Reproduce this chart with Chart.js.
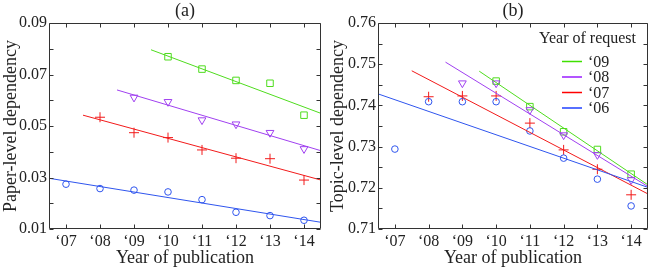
<!DOCTYPE html>
<html>
<head>
<meta charset="utf-8">
<script src="https://cdn.jsdelivr.net/npm/chart.js@4.4.1/dist/chart.umd.min.js"></script>
<style>
  html, body { margin: 0; padding: 0; background: #fff; }
  #wrap { position: relative; width: 654px; height: 272px; }
  .pane { position: absolute; top: 0; width: 327px; height: 272px; }
  #pa { left: 0; }
  #pb { left: 327px; }
</style>
</head>
<body>
<div id="wrap">
  <div class="pane" id="pa"><canvas id="ca"></canvas></div>
  <div class="pane" id="pb"><canvas id="cb"></canvas></div>
</div>
<script>
// ---------- data ----------
const years = [7, 8, 9, 10, 11, 12, 13, 14];
const yearTickLabels = ['‘07', '‘08', '‘09', '‘10', '‘11', '‘12', '‘13', '‘14'];
const seriesNames = ['‘09', '‘08', '‘07', '‘06'];

// (a) Paper-level dependency, by year of request
const paper06 = [0.0274, 0.0257, 0.0251, 0.0244, 0.0214, 0.0165, 0.0152, 0.0134];
const paper07 = [null, 0.0534, 0.0474, 0.0455, 0.0407, 0.0375, 0.0373, 0.0290];
const paper08 = [null, null, 0.0611, 0.0594, 0.0523, 0.0507, 0.0474, 0.0411];
const paper09 = [null, null, null, 0.0769, 0.0721, 0.0677, 0.0666, 0.0542];
// fitted lines: [startYear, startValue, endYear, endValue]
const paperFit06 = [6.5, 0.0297, 14.5, 0.0126];
const paperFit07 = [7.5, 0.0542, 14.5, 0.0290];
const paperFit08 = [8.5, 0.0640, 14.5, 0.0404];
const paperFit09 = [9.5, 0.0796, 14.5, 0.0549];
const paperTicks = [0.01, 0.03, 0.05, 0.07, 0.09];
const paperTickLabels = ['0.01', '0.03', '0.05', '0.07', '0.09'];
const paperMinorTicks = [0.02, 0.04, 0.06, 0.08];

// (b) Topic-level dependency, by year of request
const topic06 = [0.7294, 0.7409, 0.7409, 0.7409, 0.7338, 0.7272, 0.7221, 0.7156];
const topic07 = [null, 0.7421, 0.7423, 0.7423, 0.7357, 0.7292, 0.7245, 0.7183];
const topic08 = [null, null, 0.7454, 0.7454, 0.7389, 0.7328, 0.7280, 0.7219];
const topic09 = [null, null, null, 0.7459, 0.7397, 0.7336, 0.7293, 0.7233];
const topicFit06 = [6.5, 0.7428, 14.5, 0.7201];
const topicFit07 = [7.5, 0.7484, 14.5, 0.7185];
const topicFit08 = [8.5, 0.7505, 14.5, 0.7203];
const topicFit09 = [9.5, 0.7483, 14.5, 0.7207];
const topicTicks = [0.71, 0.72, 0.73, 0.74, 0.75, 0.76];
const topicTickLabels = ['0.71', '0.72', '0.73', '0.74', '0.75', '0.76'];
const topicMinorTicks = [0.715, 0.725, 0.735, 0.745, 0.755];

// ---------- styles ----------
const FONT = "'Liberation Serif', 'DejaVu Serif', serif";
const TXT = '#222';
const C = {
  g: '#4fdc1e', p: '#a040f0', r: '#f21a1a', b: '#2f55ee'
};
const LEG = { g: '#3fe000', p: '#9a1cff', r: '#ff0000', b: '#1f40ff' };

function pts(vals) {
  const out = [];
  vals.forEach((v, i) => { if (v !== null) out.push({ x: years[i], y: v }); });
  return out;
}
function fit(f) { return [{ x: f[0], y: f[1] }, { x: f[2], y: f[3] }]; }

function markerSets(s06, s07, s08, s09) {
  return [
    { type: 'scatter', data: pts(s06), pointStyle: 'circle', radius: 3.3, borderColor: C.b, backgroundColor: 'transparent', borderWidth: 1 },
    { type: 'scatter', data: pts(s07), pointStyle: 'cross', radius: 5, borderColor: C.r, backgroundColor: 'transparent', borderWidth: 1 },
    { type: 'scatter', data: pts(s08), pointStyle: 'triangle', rotation: 180, radius: 4.5, borderColor: C.p, backgroundColor: 'transparent', borderWidth: 1 },
    { type: 'scatter', data: pts(s09), pointStyle: 'rect', radius: 4.6, borderColor: C.g, backgroundColor: 'transparent', borderWidth: 1 }
  ];
}
function fitSets(f06, f07, f08, f09) {
  return [[f06, C.b], [f07, C.r], [f08, C.p], [f09, C.g]].map(([f, c]) => ({
    type: 'line', data: fit(f), borderColor: c, borderWidth: 1, pointRadius: 0, fill: false, tension: 0
  }));
}

const frame = {
  id: 'frame',
  afterDraw(chart, args, opts) {
    const { ctx, chartArea: a, scales } = chart;
    const xs = scales.x, ys = scales.y;
    ctx.save();
    ctx.strokeStyle = '#333';
    ctx.lineWidth = 1;
    const L = Math.round(a.left) + 0.5, R = Math.round(a.right) - 0.5;
    const T = Math.round(a.top) + 0.5, B = Math.round(a.bottom) - 0.5;
    ctx.beginPath();
    ctx.rect(L, T, R - L, B - T);
    const tl = 4;
    years.forEach(v => {
      const x = Math.round(xs.getPixelForValue(v)) + 0.5;
      ctx.moveTo(x, B); ctx.lineTo(x, B - tl);
      ctx.moveTo(x, T); ctx.lineTo(x, T + tl);
    });
    opts.major.concat(opts.minor).forEach(v => {
      const y = Math.round(ys.getPixelForValue(v)) + 0.5;
      ctx.moveTo(L, y); ctx.lineTo(L + tl, y);
      ctx.moveTo(R, y); ctx.lineTo(R - tl, y);
    });
    ctx.stroke();
    // panel letter
    ctx.fillStyle = TXT;
    ctx.font = '18px ' + FONT;
    ctx.textAlign = 'center';
    ctx.textBaseline = 'middle';
    ctx.fillText(opts.letter, (a.left + a.right) / 2, 11);
    // legend
    if (opts.legend) {
      ctx.font = '16px ' + FONT;
      ctx.textAlign = 'right';
      ctx.fillText('Year of request', a.right - 12, 39);
      const cols = [LEG.g, LEG.p, LEG.r, LEG.b];
      const ys0 = [61.5, 77, 92.5, 108];
      ctx.textAlign = 'left';
      seriesNames.forEach((n, i) => {
        ctx.strokeStyle = cols[i];
        ctx.lineWidth = 1.5;
        ctx.beginPath();
        ctx.moveTo(a.right - 86, ys0[i]); ctx.lineTo(a.right - 66, ys0[i]);
        ctx.stroke();
        ctx.fillText(n, a.right - 60, ys0[i] + 1);
      });
    }
    ctx.restore();
  }
};

function makeChart(id, datasets, yMin, yMax, ticksArr, tickLabels, minor, yTitle, yWidth, padRight, letter, legend) {
  return new Chart(document.getElementById(id), {
    data: { datasets },
    plugins: [frame],
    options: {
      responsive: true,
      maintainAspectRatio: false,
      animation: false,
      layout: { padding: { top: 23, right: padRight, left: 0, bottom: 0 } },
      plugins: {
        legend: { display: false },
        tooltip: { enabled: false },
        frame: { major: ticksArr, minor, letter, legend }
      },
      scales: {
        x: {
          type: 'linear', min: 6.5, max: 14.5,
          afterBuildTicks: s => { s.ticks = years.map(v => ({ value: v })); },
          afterFit: s => { s.height = 43; },
          grid: { display: false, drawTicks: false },
          border: { display: false },
          ticks: {
            padding: 3, color: TXT, font: { family: FONT, size: 16 },
            maxRotation: 0, autoSkip: false,
            callback: v => yearTickLabels[years.indexOf(v)]
          },
          title: { display: true, text: 'Year of publication', color: TXT, font: { family: FONT, size: 18 }, padding: { top: 0, bottom: 3 } }
        },
        y: {
          type: 'linear', min: yMin, max: yMax,
          afterBuildTicks: s => { s.ticks = ticksArr.map(v => ({ value: v })); },
          afterFit: s => { s.width = yWidth; },
          grid: { display: false, drawTicks: false },
          border: { display: false },
          ticks: {
            padding: 2, color: TXT, font: { family: FONT, size: 16 }, autoSkip: false,
            callback: v => tickLabels[ticksArr.findIndex(t => Math.abs(t - v) < 1e-9)]
          },
          title: { display: true, text: yTitle, color: TXT, font: { family: FONT, size: 18 }, padding: { top: 0, bottom: 0 } }
        }
      }
    }
  });
}

makeChart('ca',
  fitSets(paperFit06, paperFit07, paperFit08, paperFit09).concat(markerSets(paper06, paper07, paper08, paper09)),
  0.01, 0.09, paperTicks, paperTickLabels, paperMinorTicks,
  'Paper-level dependency', 49, 3, '(a)', false);

makeChart('cb',
  fitSets(topicFit06, topicFit07, topicFit08, topicFit09).concat(markerSets(topic06, topic07, topic08, topic09)),
  0.71, 0.76, topicTicks, topicTickLabels, topicMinorTicks,
  'Topic-level dependency', 51, 2, '(b)', true);
</script>
</body>
</html>
